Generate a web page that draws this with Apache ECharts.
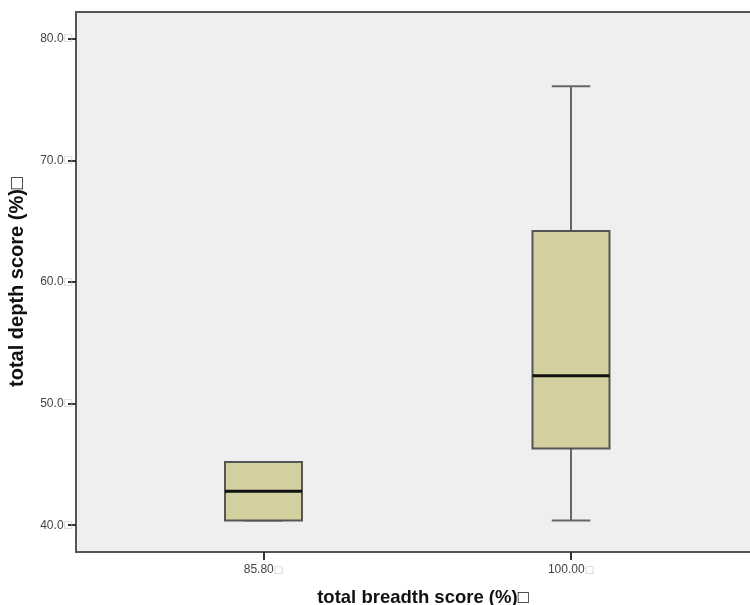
<!DOCTYPE html>
<html>
<head>
<meta charset="utf-8">
<script src="https://cdn.jsdelivr.net/npm/echarts@6/dist/echarts.min.js"></script>
<style>html,body{margin:0;padding:0;background:#fff}#c{width:750px;height:605px}</style>
</head>
<body>
<div id="c"></div>
<script>
// Data
var categories = ['85.80', '100.00'];
var whiskerLow = [40.4, 40.4];
var q1 = [40.4, 46.3];
var median = [42.8, 52.3];
var q3 = [45.2, 64.2];
var whiskerHigh = [45.2, 76.1];
var yTicks = [40, 50, 60, 70, 80];
var xTitle = 'total breadth score (%)\u25A1';
var yTitle = 'total depth score (%)\u25A1';

var boxData = categories.map(function (c, i) {
  return [i, whiskerLow[i], q1[i], median[i], q3[i], whiskerHigh[i]];
});

var YMIN = 37.8, YMAX = 82.2;
var BOXW = 77;
var FONT = 'Liberation Sans, Arial, sans-serif';
var tickRich = { a: { fontSize: 12, color: '#444', fontFamily: FONT }, b: { fontSize: 10, color: '#c4c4c4', fontFamily: 'DejaVu Sans' } };

var chart = echarts.init(document.getElementById('c'));
chart.setOption({
  animation: false,
  backgroundColor: '#ffffff',
  grid: [
    { left: 76, width: 694, top: 12, bottom: 53, show: true, backgroundColor: '#efefef', borderColor: '#555', borderWidth: 2, outerBoundsMode: 'none', containLabel: false },
    { left: 109.75, width: 615, top: 12, bottom: 53, show: false, outerBoundsMode: 'none', containLabel: false }
  ],
  xAxis: [
    { gridIndex: 0, type: 'value', min: 0, max: 1, axisLine: { show: false }, axisTick: { show: false }, axisLabel: { show: false }, splitLine: { show: false },
      name: xTitle, nameLocation: 'middle', nameGap: 36,
      nameTextStyle: { fontFamily: FONT, fontWeight: 'bold', fontSize: 18.5, color: '#111' } },
    { gridIndex: 1, type: 'category', data: categories, boundaryGap: true,
      axisLine: { show: false },
      axisTick: { show: true, alignWithLabel: true, length: 8, lineStyle: { color: '#333', width: 2 } },
      axisLabel: { margin: 12,
        formatter: function (v) { return '{a|' + v + '}{b|\u25A1}'; },
        rich: tickRich },
      splitLine: { show: false } }
  ],
  yAxis: [
    { gridIndex: 0, type: 'value', min: YMIN, max: YMAX,
      axisLine: { show: false },
      axisTick: { show: true, length: 8, customValues: yTicks, lineStyle: { color: '#333', width: 2 } },
      axisLabel: { margin: 3, customValues: yTicks,
        formatter: function (v) { return '{a|' + v.toFixed(1) + '}{b|\u25A1}'; },
        rich: tickRich },
      splitLine: { show: false },
      name: yTitle, nameLocation: 'middle', nameGap: 49, nameRotate: 90,
      nameTextStyle: { fontFamily: FONT, fontWeight: 'bold', fontSize: 20, color: '#111' } },
    { gridIndex: 1, type: 'value', min: YMIN, max: YMAX, show: false }
  ],
  series: [{
    type: 'custom',
    xAxisIndex: 1, yAxisIndex: 1,
    data: boxData,
    encode: { x: 0, y: [1, 2, 3, 4, 5] },
    renderItem: function (params, api) {
      var x = api.value(0);
      var pLow = api.coord([x, api.value(1)]);
      var pQ1 = api.coord([x, api.value(2)]);
      var pMed = api.coord([x, api.value(3)]);
      var pQ3 = api.coord([x, api.value(4)]);
      var pHigh = api.coord([x, api.value(5)]);
      var cx = pMed[0];
      var hw = BOXW / 2, cap = BOXW / 4;
      var wStyle = { stroke: '#666', lineWidth: 2 };
      return {
        type: 'group',
        children: [
          { type: 'line', shape: { x1: cx, y1: pQ3[1], x2: cx, y2: pHigh[1] }, style: wStyle },
          { type: 'line', shape: { x1: cx, y1: pQ1[1], x2: cx, y2: pLow[1] }, style: wStyle },
          { type: 'line', shape: { x1: cx - cap, y1: pHigh[1], x2: cx + cap, y2: pHigh[1] }, style: wStyle },
          { type: 'line', shape: { x1: cx - cap, y1: pLow[1], x2: cx + cap, y2: pLow[1] }, style: wStyle },
          { type: 'rect', shape: { x: cx - hw, y: pQ3[1], width: BOXW, height: pQ1[1] - pQ3[1] },
            style: { fill: '#d3cf9f', stroke: '#555', lineWidth: 2 } },
          { type: 'line', shape: { x1: cx - hw, y1: pMed[1], x2: cx + hw, y2: pMed[1] }, style: { stroke: '#111', lineWidth: 3 } }
        ]
      };
    }
  }]
});
</script>
</body>
</html>
